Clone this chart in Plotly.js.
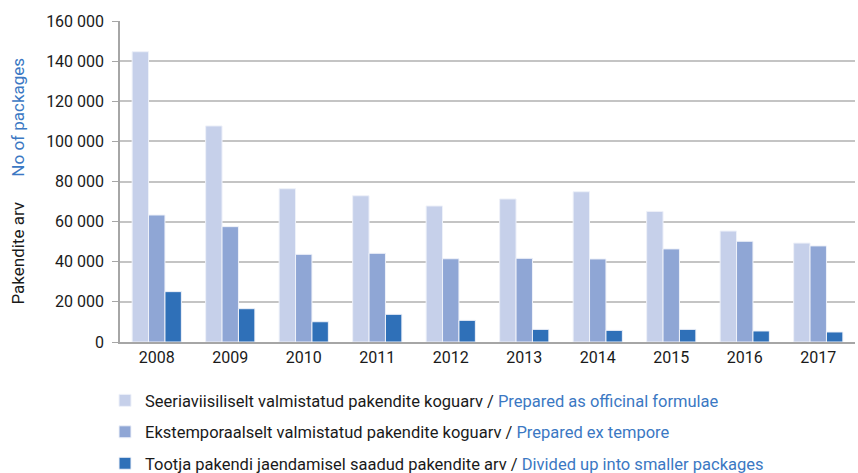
<!DOCTYPE html>
<html>
<head>
<meta charset="utf-8">
<script src="https://cdn.plot.ly/plotly-3.0.1.min.js"></script>
<style>
  html, body { margin: 0; padding: 0; background: #fff; }
  #graafik { width: 858px; height: 473px; }
</style>
</head>
<body>
<div id="graafik"></div>
<script>
// --- andmed ---
const aastad = ["2008", "2009", "2010", "2011", "2012", "2013", "2014", "2015", "2016", "2017"];
const seeriaviisiliselt = [144700, 107700, 76400, 72900, 67800, 71300, 74900, 65100, 55300, 49300];
const ekstemporaalselt = [63300, 57500, 43700, 44200, 41500, 41700, 41400, 46400, 50200, 47900];
const jaendamisel = [25100, 16600, 10100, 13800, 10800, 6300, 5800, 6300, 5500, 5000];

const nimed = [
    "Seeriaviisiliselt valmistatud pakendite koguarv / <span style='color:#3b78c3'>Prepared as officinal formulae</span>",
    "Ekstemporaalselt valmistatud pakendite koguarv / <span style='color:#3b78c3'>Prepared ex tempore</span>",
    "Tootja pakendi jaendamisel saadud pakendite arv / <span style='color:#3b78c3'>Divided up into smaller packages</span>"
];
const yPealkiri = "Pakendite arv&nbsp;&nbsp;&nbsp;&nbsp;&nbsp;&nbsp;<span style='color:#3b78c3'>No of packages</span>";
const varvid = ["#c6d0ea", "#8fa6d5", "#2f70b8"];
const FONT = "Roboto, 'Liberation Sans', sans-serif";

function tulp(vaartused, i) {
    return {
        x: aastad,
        y: vaartused,
        type: "bar",
        name: nimed[i],
        legendgroup: "g" + i,
        marker: { color: varvid[i], line: { color: "#eef1f9", width: 1 } },
        hoverinfo: "x+y"
    };
}

const data = [
    tulp(seeriaviisiliselt, 0),
    tulp(ekstemporaalselt, 1),
    tulp(jaendamisel, 2)
];

const layout = {
    width: 858,
    height: 473,
    margin: { l: 120, r: 3, t: 21, b: 131, autoexpand: false },
    paper_bgcolor: "#fff",
    plot_bgcolor: "#fff",
    font: { family: FONT, size: 16, color: "#1a1a1a" },
    separators: ", ",
    barmode: "group",
    bargap: 0.33,
    bargroupgap: 0,
    xaxis: {
        type: "category",
        showline: true,
        linecolor: "#a6a6a6",
        linewidth: 1.5,
        ticks: "",
        tickangle: 0,
        tickfont: { size: 16 },
        showgrid: false,
        zeroline: false
    },
    yaxis: {
        range: [0, 160000],
        dtick: 20000,
        tickformat: ",d",
        showline: true,
        linecolor: "#a6a6a6",
        linewidth: 1.5,
        ticks: "outside",
        ticklen: 6,
        tickcolor: "#a6a6a6",
        ticklabelstandoff: 5,
        tickfont: { size: 16 },
        gridcolor: "#c4c4c4",
        gridwidth: 1.5,
        zeroline: false
    },
    // telje pealkiri annotatsioonina, et asukoht oleks täpne
    annotations: [{
        text: yPealkiri,
        xref: "paper",
        yref: "paper",
        x: -0.14,
        y: 0.5,
        xanchor: "center",
        yanchor: "middle",
        textangle: -90,
        showarrow: false,
        font: { size: 17 }
    }],
    showlegend: true,
    legend: {
        orientation: "v",
        traceorder: "grouped",
        tracegroupgap: 7,
        xref: "container",
        yref: "container",
        x: 105 / 858,
        y: 0.19,
        xanchor: "left",
        yanchor: "top",
        font: { size: 16.5 },
        itemclick: false,
        bgcolor: "rgba(0,0,0,0)"
    }
};

Plotly.newPlot("graafik", data, layout, { displayModeBar: false, responsive: false });
</script>
</body>
</html>
